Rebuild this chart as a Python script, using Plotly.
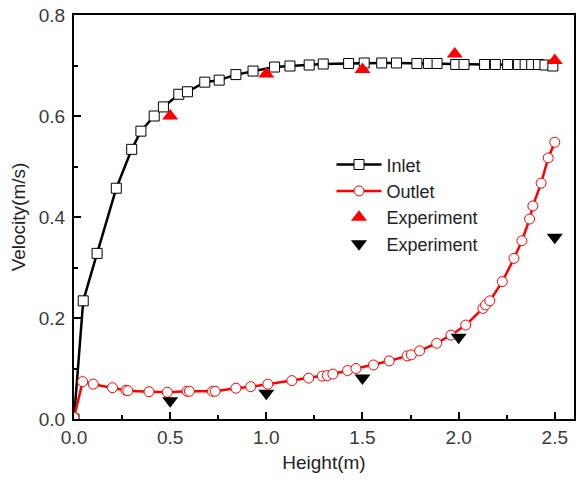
import plotly.graph_objects as go

# Simulated velocity profile at the inlet
inlet_height = [0.0, 0.048, 0.12, 0.22, 0.30, 0.348, 0.417, 0.465, 0.545, 0.59, 0.68, 0.755,
                0.842, 0.931, 1.043, 1.123, 1.223, 1.296, 1.428, 1.509, 1.60, 1.677, 1.783,
                1.843, 1.888, 1.985, 2.028, 2.135, 2.191, 2.255, 2.311, 2.346, 2.38, 2.415,
                2.449, 2.49]
inlet_velocity = [0.0, 0.234, 0.328, 0.457, 0.534, 0.570, 0.600, 0.618, 0.643, 0.648, 0.667, 0.671,
                  0.682, 0.689, 0.697, 0.699, 0.701, 0.703, 0.704, 0.705, 0.705, 0.705, 0.704,
                  0.704, 0.704, 0.702, 0.702, 0.702, 0.702, 0.702, 0.702, 0.702, 0.702, 0.702,
                  0.701, 0.699]

# Simulated velocity profile at the outlet
outlet_height = [0.0, 0.045, 0.10, 0.20, 0.27, 0.28, 0.39, 0.485, 0.588, 0.60, 0.72, 0.734,
                 0.842, 0.919, 1.008, 1.133, 1.22, 1.291, 1.317, 1.346, 1.423, 1.466, 1.557,
                 1.639, 1.732, 1.754, 1.797, 1.886, 1.96, 2.037, 2.126, 2.14, 2.162, 2.227,
                 2.288, 2.329, 2.369, 2.386, 2.429, 2.466, 2.50]
outlet_velocity = [0.003, 0.074, 0.069, 0.062, 0.057, 0.056, 0.054, 0.053, 0.055, 0.055, 0.055, 0.055,
                   0.061, 0.064, 0.069, 0.076, 0.081, 0.085, 0.086, 0.089, 0.096, 0.100, 0.107,
                   0.115, 0.125, 0.127, 0.135, 0.150, 0.166, 0.186, 0.219, 0.226, 0.234, 0.272,
                   0.318, 0.353, 0.396, 0.422, 0.467, 0.517, 0.548]

# Measured velocities
exp_inlet_height = [0.5, 1.0, 1.5, 1.98, 2.5]
exp_inlet_velocity = [0.600, 0.683, 0.692, 0.723, 0.710]
exp_outlet_height = [0.5, 1.0, 1.5, 2.0, 2.5]
exp_outlet_velocity = [0.036, 0.051, 0.081, 0.162, 0.360]

FONT = "Liberation Sans, Arial"

fig = go.Figure()
fig.add_trace(go.Scatter(
    x=inlet_height, y=inlet_velocity, name="Inlet", mode="lines+markers",
    line=dict(color="black", width=2.5),
    marker=dict(symbol="square", size=10, color="white", line=dict(color="black", width=1)),
    legendgroup="a"))
fig.add_trace(go.Scatter(
    x=outlet_height, y=outlet_velocity, name="Outlet", mode="lines+markers",
    line=dict(color="#ff0000", width=2.5),
    marker=dict(symbol="circle", size=10, color="white", line=dict(color="#ff0000", width=1)),
    legendgroup="b"))
fig.add_trace(go.Scatter(
    x=exp_inlet_height, y=exp_inlet_velocity, name="Experiment", mode="markers",
    marker=dict(symbol="triangle-up", size=14, color="#ff0000"),
    legendgroup="c"))
fig.add_trace(go.Scatter(
    x=exp_outlet_height, y=exp_outlet_velocity, name="Experiment", mode="markers",
    marker=dict(symbol="triangle-down", size=14, color="black"),
    legendgroup="d"))

axis_common = dict(
    showgrid=False, zeroline=False, showline=True, linecolor="black", linewidth=2,
    mirror=True, ticks="inside", ticklen=7, tickwidth=2, tickcolor="black",
    tickfont=dict(family=FONT, size=19, color="#3a3a3a"),
)

fig.update_xaxes(
    range=[0, 2.6], tickvals=[0, 0.5, 1.0, 1.5, 2.0, 2.5],
    ticktext=["0.0", "0.5", "1.0", "1.5", "2.0", "2.5"],
    minor=dict(ticks="inside", ticklen=4, tickwidth=2, tickcolor="black", dtick=0.25, tick0=0),
    title=dict(text="Height(m)", font=dict(family=FONT, size=19, color="#222222"),
               standoff=9),
    **axis_common)
fig.update_yaxes(
    range=[0, 0.8], tickvals=[0, 0.2, 0.4, 0.6, 0.8],
    ticktext=["0.0", "0.2", "0.4", "0.6", "0.8"],
    minor=dict(ticks="inside", ticklen=4, tickwidth=2, tickcolor="black", dtick=0.1, tick0=0),
    title=dict(text="Velocity(m/s)", font=dict(family=FONT, size=19, color="#222222"),
               standoff=8),
    ticklabelstandoff=3,
    **axis_common)

fig.update_layout(
    width=577, height=487,
    margin=dict(l=74, r=1, t=15, b=68),
    paper_bgcolor="white", plot_bgcolor="white",
    legend=dict(x=0.515, y=0.675, xanchor="left", yanchor="top",
                font=dict(family=FONT, size=18, color="#222222"),
                bgcolor="rgba(0,0,0,0)", itemwidth=45, traceorder="grouped",
                tracegroupgap=0),
    showlegend=True,
)

fig.write_html("out.html")
